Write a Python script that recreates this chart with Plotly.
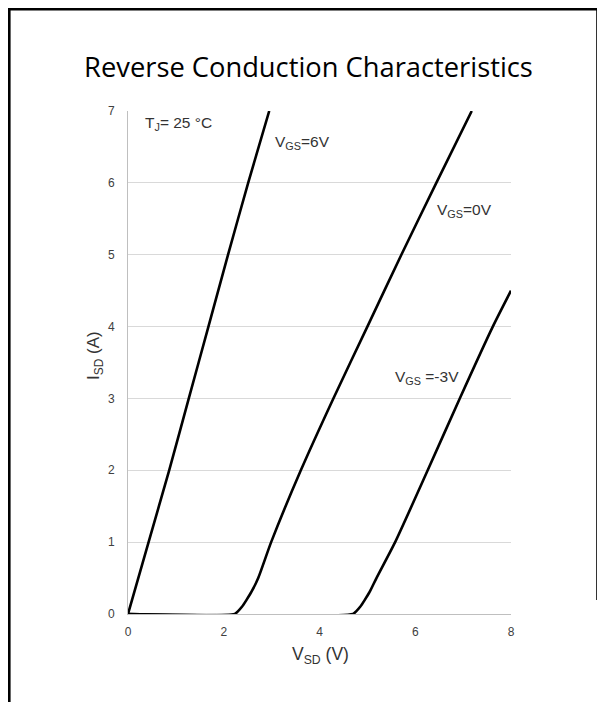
import plotly.graph_objects as go

# Data (V_SD in volts, I_SD in amps)
vsd_6v = [0.0, 0.43, 0.86, 1.27, 1.68, 2.09, 2.51, 2.95]
isd_6v = [0.0, 1.0, 2.0, 3.0, 4.0, 5.0, 6.0, 7.0]

vsd_0v = [0.0, 2.23, 2.30, 2.38, 2.47, 2.58, 2.72, 2.99, 3.61, 4.29, 5.00, 5.71, 6.44, 7.18]
isd_0v = [0.0, 0.0, 0.04, 0.10, 0.19, 0.31, 0.50, 1.0, 2.0, 3.0, 4.0, 5.0, 6.0, 7.0]

vsd_m3v = [0.0, 4.70, 4.77, 4.85, 4.94, 5.05, 5.19, 5.58, 6.26, 6.93, 7.62, 8.0]
isd_m3v = [0.0, 0.0, 0.04, 0.10, 0.19, 0.31, 0.50, 1.0, 2.0, 3.0, 4.0, 4.5]

x_ticks = [0, 2, 4, 6, 8]
y_ticks = [0, 1, 2, 3, 4, 5, 6, 7]

W, H = 605, 702
OFF = 8  # page body offset seen in the screenshot
# plot area in screenshot pixels: x 128..511, y 111..614
L = 128 - OFF
T = 111 - OFF
R = W - (511 - OFF)
B = H - (614 - OFF)
pw, ph = W - L - R, H - T - B

def px(xs):
    return (xs - OFF - L) / pw

def py(ys):
    return (H - B - (ys - OFF)) / ph

fig = go.Figure()
line_style = dict(color="black", width=2.6, shape="spline", smoothing=0.6)
for xs, ys, name in [(vsd_6v, isd_6v, "VGS=6V"), (vsd_0v, isd_0v, "VGS=0V"), (vsd_m3v, isd_m3v, "VGS=-3V")]:
    fig.add_trace(go.Scatter(x=xs, y=ys, mode="lines", line=line_style, name=name,
                             showlegend=False, hoverinfo="skip", cliponaxis=True))

tick_font = dict(family="Liberation Sans, Arial", size=12, color="#404040")
ann_font = dict(family="Liberation Sans, Arial", size=15.5, color="#333333")

fig.update_layout(
    width=W, height=H, autosize=False,
    margin=dict(l=L, r=R, t=T, b=B, pad=0),
    paper_bgcolor="white", plot_bgcolor="white",
    title=dict(text="Reverse Conduction Characteristics", x=(308.5 - OFF) / W, xanchor="center",
               y=1 - (67 - OFF) / H, yanchor="middle", yref="container",
               font=dict(family="Open Sans", size=27.3, color="black")),
    xaxis=dict(range=[0, 8], tickvals=x_ticks, showgrid=False, zeroline=False,
               showline=True, linecolor="#bfbfbf", linewidth=1,
               ticks="outside", ticklen=7, tickcolor="rgba(0,0,0,0)",
               tickfont=tick_font, fixedrange=True),
    yaxis=dict(range=[0, 7], tickvals=y_ticks, showgrid=True, gridcolor="#d9d9d9",
               gridwidth=1, zeroline=False, showline=True, linecolor="#bfbfbf",
               linewidth=1, ticks="outside", ticklen=10, tickcolor="rgba(0,0,0,0)",
               tickfont=tick_font, fixedrange=True),
)

annotations = [
    dict(x=0.32, y=6.83, text="T<sub>J</sub>= 25 °C", xanchor="left", yanchor="middle"),
    dict(x=3.02, y=6.56, text="V<sub>GS</sub>=6V", xanchor="left", yanchor="middle"),
    dict(x=6.41, y=5.62, text="V<sub>GS</sub>=0V", xanchor="left", yanchor="middle"),
    dict(x=5.54, y=3.29, text="V<sub>GS</sub> =-3V", xanchor="left", yanchor="middle"),
]
for a in annotations:
    fig.add_annotation(xref="x", yref="y", showarrow=False, font=ann_font, **a)

fig.add_annotation(xref="paper", yref="paper", x=px(320), y=py(655), text="V<sub>SD</sub> (V)",
                   showarrow=False, xanchor="center", yanchor="middle",
                   font=dict(family="Liberation Sans, Arial", size=17.5, color="#333333"))
fig.add_annotation(xref="paper", yref="paper", x=px(95), y=py(356), text="I<sub>SD</sub> (A)",
                   showarrow=False, xanchor="center", yanchor="middle", textangle=-90,
                   font=dict(family="Liberation Sans, Arial", size=17, color="#333333"))

# outer frame (left, top, right edges; bottom runs off the page)
frame = dict(color="black", width=2.6)
fx0, fy0, fx1 = 9.3, 9.3, 597.5
fig.add_shape(type="line", xref="paper", yref="paper", x0=px(fx0), x1=px(fx0), y0=py(fy0 - 1.3), y1=py(740), line=frame)
fig.add_shape(type="line", xref="paper", yref="paper", x0=px(fx0 - 1.3), x1=px(fx1 + 1.3), y0=py(fy0), y1=py(fy0), line=frame)
fig.add_shape(type="line", xref="paper", yref="paper", x0=px(fx1), x1=px(fx1), y0=py(fy0 - 1.3), y1=py(600), line=frame)

fig.write_html("out.html")
